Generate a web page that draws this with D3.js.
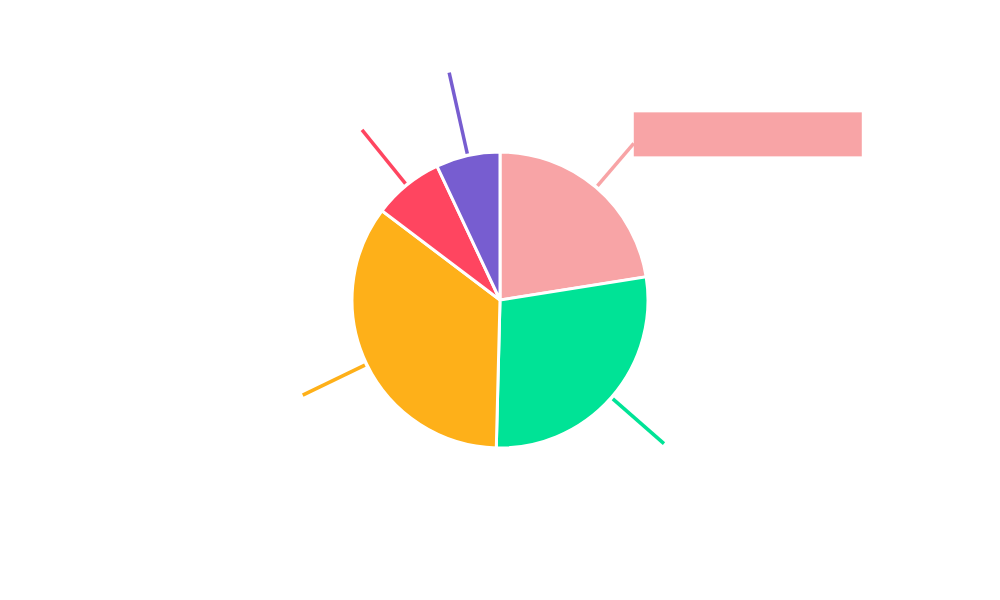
<!DOCTYPE html>
<html>
<head>
<meta charset="utf-8">
<script src="https://cdn.jsdelivr.net/npm/d3@7"></script>
<style>
  body { margin: 0; background: #fff; }
</style>
</head>
<body>
<div id="chart"></div>
<script>
// slice order clockwise from 12 o'clock
const categories = ['A', 'B', 'C', 'D', 'E'];
const values = [22.5, 27.9, 34.9, 7.7, 7.0];
const colors = ['#f8a4a6', '#00e396', '#feb019', '#ff4560', '#775dd0'];
// how far each leader line reaches out
const leaderEnds = [206, 218, 219, 219, 233];
const highlighted = 0;

const width = 1000;
const height = 600;
const cx = 500, cy = 300, radius = 148;

const svg = d3.select('#chart')
    .append('svg')
    .attr('width', width)
    .attr('height', height);

const g = svg.append('g').attr('transform', `translate(${cx}, ${cy})`);

const pie = d3.pie().sort(null).value((d) => d);
const arcs = pie(values);
const arc = d3.arc().innerRadius(0).outerRadius(radius);

g.selectAll('path.slice')
    .data(arcs)
    .enter()
    .append('path')
    .attr('class', 'slice')
    .attr('d', arc)
    .style('fill', (d, i) => colors[i])
    .style('stroke', '#fff')
    .style('stroke-width', 3);

const pt = (a, r) => [Math.sin(a) * r, -Math.cos(a) * r];

g.selectAll('line.leader')
    .data(arcs)
    .enter()
    .append('line')
    .attr('class', 'leader')
    .each(function (d, i) {
        const mid = (d.startAngle + d.endAngle) / 2;
        const p0 = pt(mid, radius + 2);
        const p1 = pt(mid, leaderEnds[i]);
        d3.select(this)
            .attr('x1', p0[0]).attr('y1', p0[1])
            .attr('x2', p1[0]).attr('y2', p1[1]);
    })
    .style('stroke', (d, i) => colors[i])
    .style('stroke-width', 3.5);

// label box of the highlighted slice
const hd = arcs[highlighted];
const hp = pt((hd.startAngle + hd.endAngle) / 2, leaderEnds[highlighted]);
g.append('rect')
    .attr('x', hp[0])
    .attr('y', hp[1] - 31)
    .attr('width', 228)
    .attr('height', 44)
    .style('fill', colors[highlighted]);
</script>
</body>
</html>
